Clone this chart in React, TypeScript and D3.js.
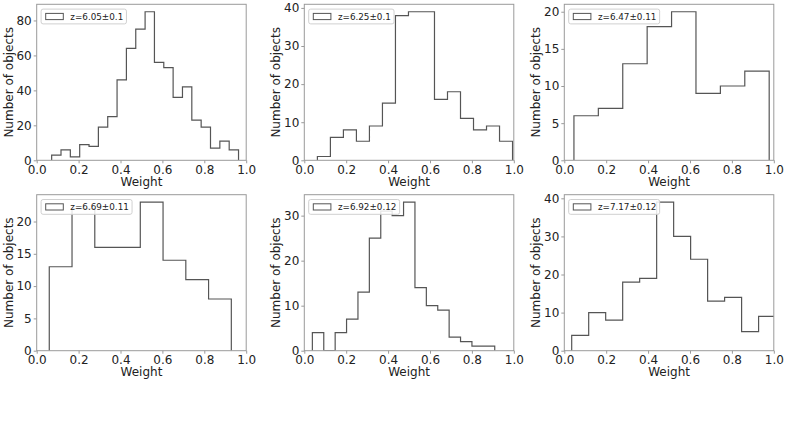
import React, { useEffect, useRef } from 'react';
import * as d3 from 'd3';

const weightTicks = [0, 0.2, 0.4, 0.6, 0.8, 1.0];

const legendLabels = [
  'z=6.05±0.1',
  'z=6.25±0.1',
  'z=6.47±0.11',
  'z=6.69±0.11',
  'z=6.92±0.12',
  'z=7.17±0.12',
];

// number of objects per weight bin, one array per redshift slice
const countsZ605 = [3, 6, 2, 9, 8, 19, 25, 46, 64, 75, 85, 56, 53, 36, 42, 23, 19, 7, 11, 6];
const countsZ625 = [1, 6, 8, 5, 9, 15, 38, 39, 39, 16, 18, 11, 8, 9, 5];
const countsZ647 = [6, 7, 13, 18, 20, 9, 10, 12];
const countsZ669 = [13, 22, 16, 16, 23, 14, 11, 8];
const countsZ692 = [4, 0, 4, 7, 13, 25, 31, 30, 33, 14, 10, 9, 3, 2, 1, 1];
const countsZ717 = [4, 10, 8, 18, 19, 39, 30, 24, 13, 14, 5, 9];

// weight range spanned by the (equal width) bins of each slice
const binRanges: [number, number][] = [
  [0.0714, 0.9634],
  [0.0625, 0.994],
  [0.046, 0.978],
  [0.06, 0.929],
  [0.0385, 0.909],
  [0.0353, 1.0085],
];

const countTicks = [
  [0, 20, 40, 60, 80],
  [0, 10, 20, 30, 40],
  [0, 5, 10, 15, 20],
  [0, 5, 10, 15, 20],
  [0, 10, 20, 30],
  [0, 10, 20, 30, 40],
];

const allCounts = [countsZ605, countsZ625, countsZ647, countsZ669, countsZ692, countsZ717];

const FONT = 'DejaVu Sans, sans-serif';

export default function App() {
  const svgRef = useRef<SVGSVGElement>(null);

  useEffect(() => {
    if (!svgRef.current) return;
    const svg = d3.select(svgRef.current);
    svg.selectAll('*').remove();

    const colLeft = [36.7, 304.3, 564.3];
    const rowTop = [4.3, 194.7];
    const axW = 209.5;
    const axH = 156;

    allCounts.forEach((counts, i) => {
      const left = colLeft[i % 3];
      const top = rowTop[Math.floor(i / 3)];
      const bottom = top + axH;
      const [lo, hi] = binRanges[i];
      const n = counts.length;

      const x = d3.scaleLinear().domain([0, 1]).range([left, left + axW]);
      const y = d3
        .scaleLinear()
        .domain([0, (d3.max(counts) as number) * 1.05])
        .range([bottom, top]);

      const g = svg.append('g');

      // clip for the step outline
      const clipId = `clip-${i}`;
      svg
        .append('defs')
        .append('clipPath')
        .attr('id', clipId)
        .append('rect')
        .attr('x', left)
        .attr('y', top)
        .attr('width', axW)
        .attr('height', axH);

      const edges = d3.range(n + 1).map((k) => lo + ((hi - lo) * k) / n);
      const pts: [number, number][] = [[edges[0], 0]];
      counts.forEach((c, k) => {
        pts.push([edges[k], c]);
        pts.push([edges[k + 1], c]);
      });
      pts.push([edges[n], 0]);

      const line = d3
        .line<[number, number]>()
        .x((d) => x(d[0]))
        .y((d) => y(d[1]));

      g.append('path')
        .datum(pts)
        .attr('d', line)
        .attr('fill', 'none')
        .attr('stroke', '#555')
        .attr('stroke-width', 1.2)
        .attr('clip-path', `url(#${clipId})`);

      // frame
      g.append('rect')
        .attr('x', left)
        .attr('y', top)
        .attr('width', axW)
        .attr('height', axH)
        .attr('fill', 'none')
        .attr('stroke', '#9a9a9a')
        .attr('stroke-width', 1);

      const xAxis = d3
        .axisBottom(x)
        .tickValues(weightTicks)
        .tickFormat((d) => d3.format('.1f')(d as number))
        .tickSize(3)
        .tickSizeOuter(0)
        .tickPadding(2);

      const xg = g.append('g').attr('transform', `translate(0,${bottom})`).call(xAxis);
      xg.select('.domain').remove();

      const yAxis = d3
        .axisLeft(y)
        .tickValues(countTicks[i])
        .tickFormat((d) => String(d))
        .tickSize(3)
        .tickSizeOuter(0)
        .tickPadding(2);

      const yg = g.append('g').attr('transform', `translate(${left},0)`).call(yAxis);
      yg.select('.domain').remove();

      [xg, yg].forEach((ax) => {
        ax.selectAll('line').attr('stroke', '#9a9a9a');
        ax.selectAll('text')
          .attr('fill', '#222')
          .style('font-family', FONT)
          .style('font-size', '12px');
      });

      g.append('text')
        .attr('x', (left + left + axW) / 2)
        .attr('y', bottom + 25.4)
        .attr('text-anchor', 'middle')
        .attr('fill', '#222')
        .style('font-family', FONT)
        .style('font-size', '12px')
        .text('Weight');

      g.append('text')
        .attr('transform', `translate(${left - 24},${top + axH / 2}) rotate(-90)`)
        .attr('text-anchor', 'middle')
        .attr('fill', '#222')
        .style('font-family', FONT)
        .style('font-size', '12px')
        .text('Number of objects');

      // legend
      const fs = 8.8;
      const boxX = left + 4.4;
      const boxY = top + 4.8;
      const boxH = 14.8;
      const patchX = boxX + 4.6;
      const patchW = 17.6;
      const patchH = 6.2;
      const textX = patchX + patchW + 7;

      const leg = g.append('g');
      const box = leg
        .append('rect')
        .attr('x', boxX)
        .attr('y', boxY)
        .attr('height', boxH)
        .attr('rx', 2)
        .attr('fill', 'white')
        .attr('fill-opacity', 0.85)
        .attr('stroke', '#d0d0d0')
        .attr('stroke-width', 1);

      leg.append('rect')
        .attr('x', patchX)
        .attr('y', boxY + boxH / 2 - patchH / 2)
        .attr('width', patchW)
        .attr('height', patchH)
        .attr('fill', 'white')
        .attr('stroke', '#555')
        .attr('stroke-width', 1);

      const txt = leg
        .append('text')
        .attr('x', textX)
        .attr('y', boxY + boxH / 2 + 3.2)
        .attr('fill', '#222')
        .style('font-family', FONT)
        .style('font-size', `${fs}px`)
        .text(legendLabels[i]);

      const tw = (txt.node() as SVGTextElement).getComputedTextLength();
      box.attr('width', textX + tw + 3.2 - boxX);
    });
  }, []);

  return (
    <div style={{ position: 'absolute', left: 0, top: 0 }}>
      <svg ref={svgRef} width={789} height={444} style={{ display: 'block', background: '#fff' }} />
    </div>
  );
}
